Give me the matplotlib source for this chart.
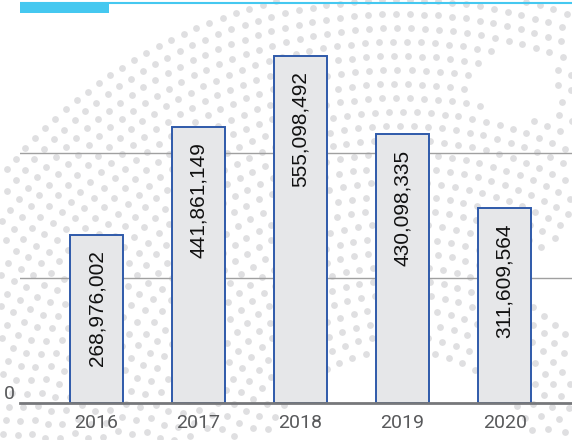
import numpy as np
import matplotlib
matplotlib.use('Agg')
import matplotlib.pyplot as plt
from matplotlib.patches import Rectangle

# 数据
years = ['2016', '2017', '2018', '2019', '2020']
values = [268976002, 441861149, 555098492, 430098335, 311609564]
value_labels = ['268,976,002', '441,861,149', '555,098,492', '430,098,335', '311,609,564']

W, H = 572, 440
fig = plt.figure(figsize=(W / 100, H / 100), dpi=100)

# 背景点阵（装饰）
bg = fig.add_axes([0, 0, 1, 1])
bg.set_xlim(0, W)
bg.set_ylim(H, 0)
bg.axis('off')
cx, cy = 400, 500
px, py = [], []
for r in np.arange(150, 526, 14):
    n = int(2 * np.pi * r / 14)
    for k in range(n):
        a = 2 * np.pi * k / n + r * 0.013
        x = cx + r * np.cos(a)
        y = cy + r * np.sin(a)
        if 0 <= x <= W and 0 <= y <= H:
            if (x - 515) ** 2 + (y - 85) ** 2 < 40 ** 2:
                continue
            if (x - 560) ** 2 + (y - 280) ** 2 < 35 ** 2:
                continue
            px.append(x)
            py.append(y)
bg.scatter(px, py, s=24, color='#dfdfe1', linewidths=0)

# 顶部装饰线
bg.plot([20, W], [3, 3], color='#45c8f0', lw=1.5, solid_capstyle='butt')
bg.add_patch(Rectangle((20, 2), 89, 11, color='#45c8f0', lw=0))

# 主图
ax = fig.add_axes([20 / W, 37 / H, 1 - 20 / W, 400 / H])
ax.patch.set_alpha(0)
x = np.arange(len(years))
ax.bar(x, values, width=0.52, color='#e6e7e9', edgecolor='#2f5aaa', linewidth=1.4, zorder=3)
for xi, v, lab in zip(x, values, value_labels):
    ax.annotate(lab, (xi, v), xytext=(0, -11), textcoords='offset points',
                rotation=90, ha='center', va='top', fontsize=15, color='#111111',
                family='Liberation Sans', zorder=4)

ax.set_xlim(-0.75, 4.66)
ax.set_ylim(0, 640e6)
ax.set_xticks(x)
ax.set_xticklabels(years, fontsize=14, color='#58595b', family='Roboto')
ax.set_yticks([0, 200e6, 400e6])
ax.set_yticklabels(['0', '', ''], fontsize=14, color='#58595b', family='Roboto')
for t in ax.get_yticklabels():
    t.set_va('bottom')
ax.tick_params(axis='x', length=0, pad=8)
ax.tick_params(axis='y', length=0, pad=4)
ax.grid(axis='y', color='#a0a0a0', lw=1, zorder=1)
for s in ['top', 'right', 'left']:
    ax.spines[s].set_visible(False)
ax.spines['bottom'].set_color('#77787b')
ax.spines['bottom'].set_linewidth(2)
ax.spines['bottom'].set_zorder(5)

fig.savefig('out.png', dpi=100)
